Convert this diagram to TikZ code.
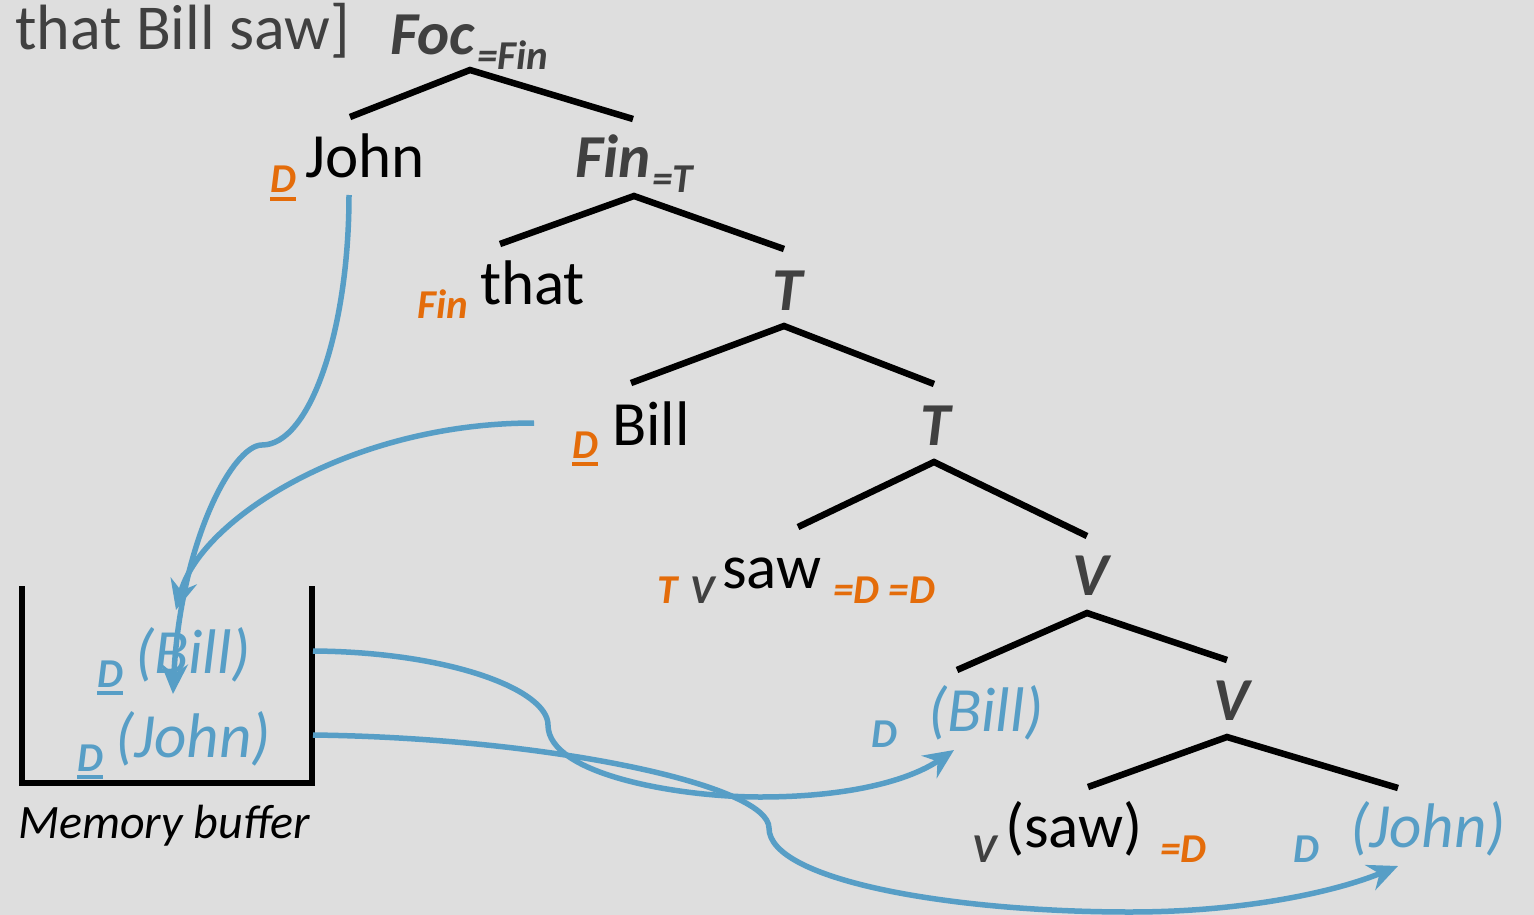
\documentclass[tikz,border=0pt]{standalone}
\usepackage{fontspec}
\setmainfont{Carlito}
\usetikzlibrary{arrows.meta}
\definecolor{bg}{RGB}{222,222,222}
\definecolor{dgray}{RGB}{64,64,64}
\definecolor{orng}{RGB}{228,108,10}
\definecolor{blu}{RGB}{87,158,198}
\newcommand\myuline[1]{\setbox0=\hbox{#1}\rlap{\rule[-7.5pt]{\wd0}{3.5pt}}\box0}
\begin{document}
\begin{tikzpicture}[x=1pt,y=-1pt,
 wordl/.style={inner sep=0pt, anchor=base west, font=\fontsize{63}{63}\selectfont, text=black},
 catl/.style={inner sep=0pt, anchor=base west, font=\fontsize{61}{61}\selectfont\bfseries\itshape, text=dgray},
 subl/.style={inner sep=0pt, anchor=base west, font=\fontsize{41}{41}\selectfont\bfseries\itshape},
 tracel/.style={inner sep=0pt, anchor=base west, font=\fontsize{63}{63}\selectfont\itshape, text=blu},
 branchl/.style={line width=6.5pt, black},
 bufferl/.style={line width=6pt, black, line join=miter},
 movel/.style={line width=5.5pt, blu, -{Stealth[length=30pt,width=27pt,inset=10pt]}}]
\fill[bg] (0,0) rectangle (1534,915);
\useasboundingbox (0,0) rectangle (1534,915);

% texts
\node[wordl, text=dgray, font=\fontsize{64}{64}\selectfont] (top) at (15,50) {that Bill saw]};
\node[catl] (foc) at (390,55) {Foc};
\node[subl, text=dgray] (focsub) at (477,70) {=Fin};
\node[wordl] (john) at (305,178) {John};
\node[subl, text=orng] (johnD) at (270,193) {\myuline{D}};
\node[catl] (fin) at (575,178) {Fin};
\node[subl, text=dgray] (finsub) at (652,193) {=T};
\node[wordl] (that) at (480,304) {that};
\node[subl, text=orng] (thatF) at (417,318) {Fin};
\node[catl] (t1) at (772,310) {T};
\node[wordl] (bill) at (612,445) {Bill};
\node[subl, text=orng] (billD) at (572,458) {\myuline{D}};
\node[catl] (t2) at (920,445) {T};
\node[wordl] (saw) at (722,588) {saw};
\node[subl, text=orng] (sawT) at (657,603) {T};
\node[subl, text=dgray] (sawV) at (690,603) {V};
\node[subl, text=orng] (sawD) at (833,603) {=D =D};
\node[catl] (v1) at (1072,595) {V};
\node[tracel] (tbill) at (928,731) {(Bill)};
\node[subl, text=blu] (tbillD) at (871,747) {D};
\node[catl] (v2) at (1213,720) {V};
\node[wordl] (tsaw) at (1005,847) {(saw)};
\node[subl, text=dgray] (tsawV) at (972,862) {V};
\node[subl, text=orng] (tsawD) at (1160,862) {=D};
\node[tracel] (tjohn) at (1350,847) {(John)};
\node[subl, text=blu] (tjohnD) at (1293,862) {D};
\node[tracel] (mbill) at (135,673) {(Bill)};
\node[subl, text=blu] (mbillD) at (97,687) {\myuline{D}};
\node[tracel] (mjohn) at (115,757) {(John)};
\node[subl, text=blu] (mjohnD) at (77,771) {\myuline{D}};
\node[inner sep=0pt, anchor=base west, font=\fontsize{48}{48}\selectfont\itshape] (mem) at (18,838) {Memory buffer};

% tree
\coordinate (a1) at (470,70); \coordinate (a1l) at (350,117); \coordinate (a1r) at (633,119);
\coordinate (a2) at (634,196); \coordinate (a2l) at (500,244); \coordinate (a2r) at (784,249);
\coordinate (a3) at (784,326); \coordinate (a3l) at (631,383); \coordinate (a3r) at (934,384);
\coordinate (a4) at (934,462); \coordinate (a4l) at (798,527); \coordinate (a4r) at (1087,536);
\coordinate (a5) at (1087,613); \coordinate (a5l) at (957,670); \coordinate (a5r) at (1227,660);
\coordinate (a6) at (1227,737); \coordinate (a6l) at (1088,787); \coordinate (a6r) at (1398,788);
\foreach \n in {a1,a2,a3,a4,a5,a6}{\draw[branchl] (\n l) -- (\n) -- (\n r);}

% memory buffer
\coordinate (b1) at (22,586); \coordinate (b2) at (22,783);
\coordinate (b3) at (312,783); \coordinate (b4) at (312,586);
\draw[bufferl] (b1) -- (b2) -- (b3) -- (b4);

% movements into buffer
\coordinate (jsrc) at (349,195); \coordinate (jkink) at (262,445); \coordinate (jdst) at (173,694);
\draw[movel] (jsrc) .. controls (349,330) and (310,445) .. (jkink)
  .. controls (232,445) and (180,545) .. (jdst);
\coordinate (bsrc) at (534,423); \coordinate (bdst) at (176,610);
\draw[movel] (bsrc) .. controls (350,423) and (200,520) .. (bdst);

% movements out of buffer
\coordinate (obill) at (313,651); \coordinate (obmid) at (548,725); \coordinate (oblow) at (760,797);
\coordinate (obdst) at (954,750);
\draw[movel] (obill) .. controls (450,652) and (548,690) .. (obmid)
  .. controls (548,775) and (680,797) .. (oblow)
  .. controls (850,797) and (910,780) .. (obdst);
\coordinate (ojohn) at (313,735); \coordinate (ojmid) at (769,828); \coordinate (ojlow) at (1130,912);
\coordinate (ojdst) at (1398,866);
\draw[movel] (ojohn) .. controls (550,738) and (769,785) .. (ojmid)
  .. controls (769,880) and (950,912) .. (ojlow)
  .. controls (1250,912) and (1340,890) .. (ojdst);
\end{tikzpicture}
\end{document}
